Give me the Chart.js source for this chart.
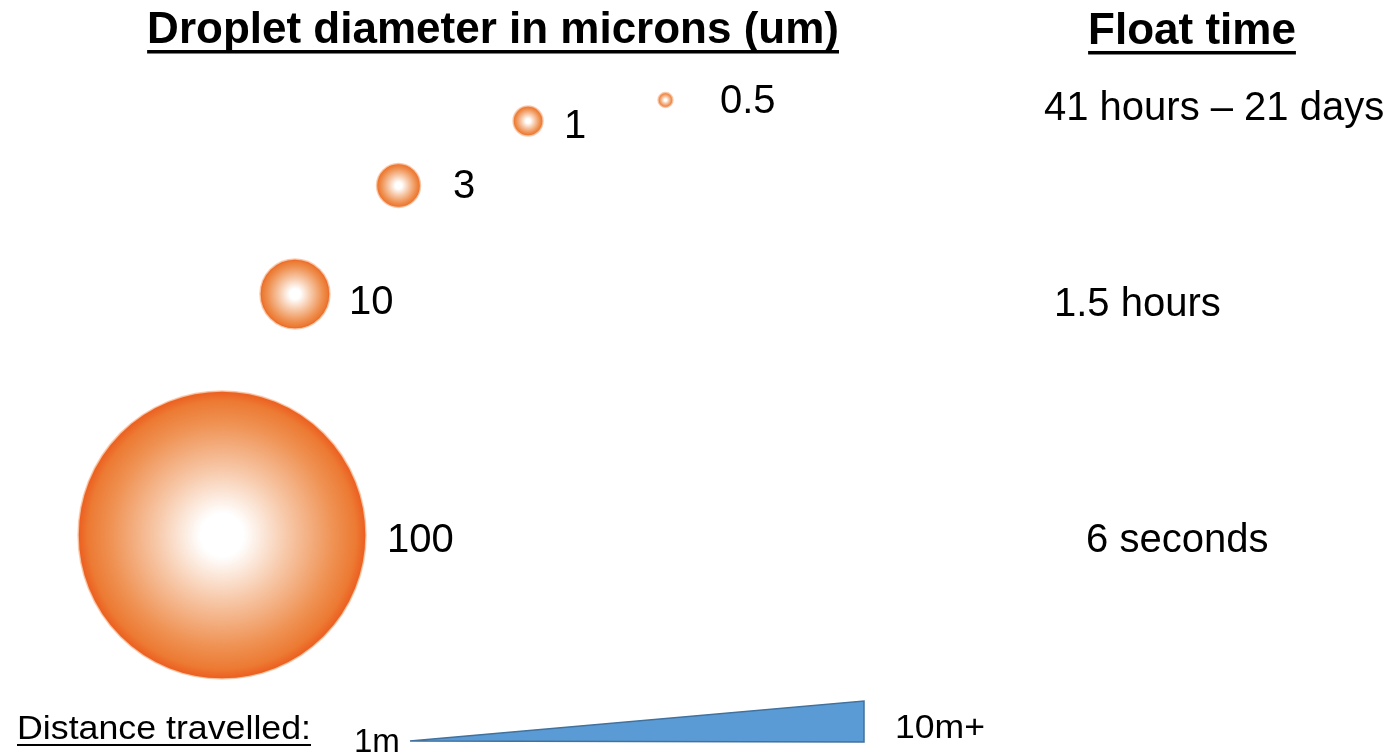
<!DOCTYPE html>
<html>
<head>
<meta charset="utf-8">
<title>Droplet size and float time</title>
<script src="https://cdn.jsdelivr.net/npm/chart.js@4.4.1/dist/chart.umd.min.js"></script>
<style>
  html, body { margin: 0; padding: 0; background: #ffffff; }
  #wrap { width: 1394px; height: 752px; position: relative; }
</style>
</head>
<body>
<div id="wrap"><canvas id="c"></canvas></div>
<script>
// ---- values ----
const diameters = [100, 10, 3, 1, 0.5];                 // droplet diameter, microns
const diameterLabels = ['100', '10', '3', '1', '0.5'];
const floatTimes = ['6 seconds', '1.5 hours', '41 hours – 21 days'];
const distanceLabels = ['1m', '10m+'];
const headings = ['Droplet diameter in microns (um)', 'Float time'];
const distanceCaption = 'Distance travelled:';

// ---- layout (percent of the drawing area; x from the left, y from the top) ----
const bubbleAt = [[15.93, 71.14], [21.16, 39.10], [28.59, 24.67], [37.88, 16.09], [47.74, 13.30]];
const bubbleRadius = [144, 35, 22, 15, 7.5];
const diameterLabelAt = [[27.76, 73.40], [25.04, 41.76], [32.50, 26.33], [40.46, 18.35], [51.65, 15.03]];
const floatTimeAt = [[77.91, 73.40], [75.61, 42.02], [74.89, 16.02]];
const headingAt = [[35.37, 5.72], [85.51, 5.85]];
const captionAt = [1.22, 98.27];
const distanceLabelAt = [[25.39, 100.0], [64.20, 98.14]];
const wedgeAt = [[29.41, 98.54], [61.98, 93.22], [61.98, 98.67], [29.41, 98.54]];

const FONT = '"Liberation Sans", Arial, Helvetica, sans-serif';

// Radial shading for each droplet: white core fading to orange at the rim
function dropletFill(ctx) {
  if (ctx.type !== 'data') return '#ed7d31';
  const chart = ctx.chart;
  const i = ctx.dataIndex;
  const xs = chart.scales.x, ys = chart.scales.y;
  if (!xs || !ys) return '#ed7d31';
  const cx = xs.getPixelForValue(bubbleAt[i][0]);
  const cy = ys.getPixelForValue(bubbleAt[i][1]);
  const r = bubbleRadius[i];
  if (!isFinite(cx) || !isFinite(cy) || !(xs.width > 0) || !(ys.height > 0)) return '#ed7d31';
  const g = chart.ctx.createRadialGradient(cx, cy, 0, cx, cy, r);
  g.addColorStop(0.00, '#ffffff');
  g.addColorStop(0.15, '#ffffff');
  g.addColorStop(0.45, '#f7c9aa');
  g.addColorStop(0.78, '#ef9152');
  g.addColorStop(0.93, '#ec7a33');
  g.addColorStop(1.00, '#ec5d1e');
  return g;
}

function drawText(ctx, text, x, y, opt) {
  ctx.save();
  ctx.font = opt.font;
  ctx.fillStyle = '#000000';
  ctx.textBaseline = 'alphabetic';
  ctx.textAlign = 'left';
  const w = ctx.measureText(text).width;
  const sx = opt.width ? opt.width / w : 1;
  const drawnW = w * sx;
  let left = x;
  if (opt.align === 'center') left = x - drawnW / 2;
  ctx.translate(left, y);
  ctx.scale(sx, 1);
  ctx.fillText(text, 0, 0);
  ctx.restore();
  if (opt.underline) {
    ctx.save();
    ctx.fillStyle = '#000000';
    ctx.fillRect(left, y + opt.underline.offset, drawnW, opt.underline.thickness);
    ctx.restore();
  }
}

const textPlugin = {
  id: 'dropletText',
  afterDraw(chart) {
    const ctx = chart.ctx;
    const X = v => chart.scales.x.getPixelForValue(v);
    const Y = v => chart.scales.y.getPixelForValue(v);

    headings.forEach((t, i) => {
      drawText(ctx, t, X(headingAt[i][0]), Y(headingAt[i][1]), {
        font: 'bold 44px ' + FONT, align: 'center',
        underline: { offset: 7, thickness: 3.5 }
      });
    });

    diameterLabels.forEach((t, i) => {
      drawText(ctx, t, X(diameterLabelAt[i][0]), Y(diameterLabelAt[i][1]), { font: '40px ' + FONT });
    });

    floatTimes.forEach((t, i) => {
      drawText(ctx, t, X(floatTimeAt[i][0]), Y(floatTimeAt[i][1]), { font: '40px ' + FONT });
    });

    drawText(ctx, distanceCaption, X(captionAt[0]), Y(captionAt[1]), {
      font: '33px ' + FONT, width: 294,
      underline: { offset: 5, thickness: 2 }
    });
    drawText(ctx, distanceLabels[0], X(distanceLabelAt[0][0]), Y(distanceLabelAt[0][1]), { font: '33px ' + FONT, width: 46 });
    drawText(ctx, distanceLabels[1], X(distanceLabelAt[1][0]), Y(distanceLabelAt[1][1]), { font: '33px ' + FONT, width: 90 });
  }
};

new Chart(document.getElementById('c'), {
  type: 'bubble',
  data: {
    datasets: [
      {
        type: 'bubble',
        label: 'Droplet diameter (um)',
        data: diameters.map((d, i) => ({ x: bubbleAt[i][0], y: bubbleAt[i][1], r: bubbleRadius[i], d })),
        backgroundColor: dropletFill,
        borderColor: 'rgba(248, 200, 168, 0.85)',
        borderWidth: 1.5,
        hoverRadius: 0,
        clip: false
      },
      {
        type: 'line',
        label: 'Distance travelled',
        data: wedgeAt.map(([x, y]) => ({ x, y })),
        fill: 'shape',
        backgroundColor: '#5b9bd5',
        borderColor: '#41719c',
        borderWidth: 1.5,
        pointRadius: 0,
        tension: 0,
        clip: false
      }
    ]
  },
  options: {
    responsive: true,
    maintainAspectRatio: false,
    animation: false,
    events: [],
    layout: { padding: 0, autoPadding: false },
    plugins: { legend: { display: false }, tooltip: { enabled: false } },
    scales: {
      x: { type: 'linear', min: 0, max: 100, display: false },
      y: { type: 'linear', min: 0, max: 100, reverse: true, display: false }
    }
  },
  plugins: [textPlugin]
});
</script>
</body>
</html>
